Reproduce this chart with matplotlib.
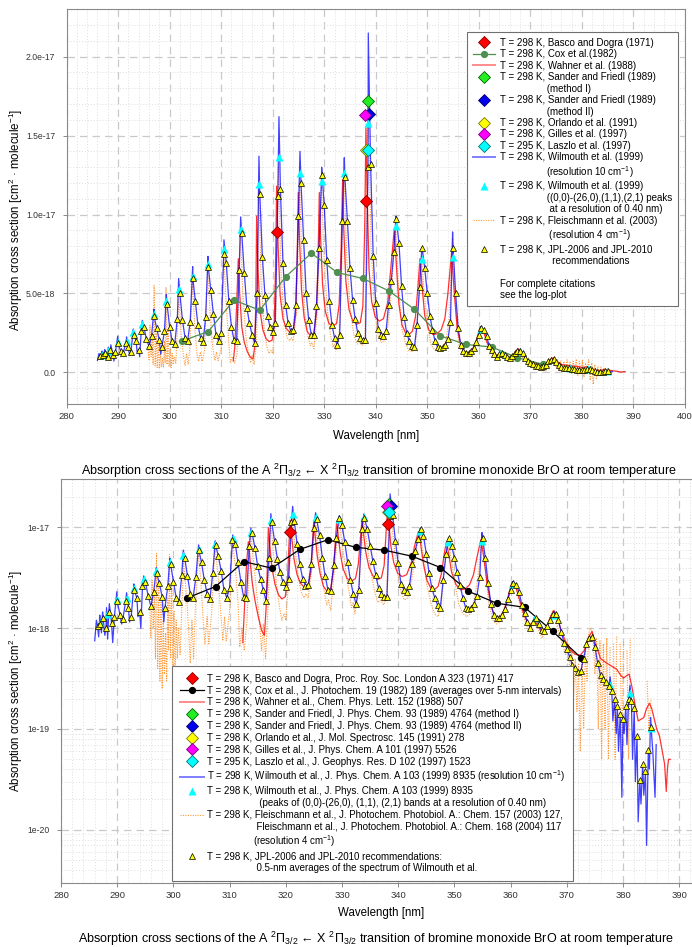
import numpy as np
from matplotlib import pyplot as plt
from matplotlib.lines import Line2D
from matplotlib.ticker import MultipleLocator, FixedLocator, FixedFormatter, LogLocator, NullFormatter

plt.rcParams['font.family'] = ['Liberation Sans', 'DejaVu Sans']
plt.rcParams['mathtext.fontset'] = 'custom'
plt.rcParams['mathtext.rm'] = 'Liberation Sans'
plt.rcParams['mathtext.it'] = 'Liberation Sans:italic'
plt.rcParams['mathtext.bf'] = 'Liberation Sans:bold'

UNIT = 1e-18  # all values below are in 1e-18 cm^2 molecule^-1

# JPL-2006 / JPL-2010 recommendation, 0.5-nm averages starting at 286.5 nm
jpl_start = 286.5
jpl_step = 0.5
jpl_val = [
    1.05, 1.10, 1.25, 1.00, 1.45, 1.12, 1.30, 1.85, 1.35, 1.22,
    1.85, 1.60, 1.30, 2.40, 2.00, 1.45, 2.60, 2.90, 2.10, 1.65,
    2.30, 3.55, 2.80, 2.05, 1.60, 2.60, 4.35, 2.90, 2.00, 1.80,
    3.40, 5.00, 3.30, 2.20, 2.00, 3.20, 6.00, 4.50, 3.00, 2.20,
    1.95, 3.50, 6.70, 5.20, 3.70, 2.40, 2.00, 2.50, 7.50, 6.90,
    4.50, 2.90, 2.05, 2.00, 6.50, 8.80, 6.30, 4.10, 3.10, 2.40,
    1.85, 5.00, 11.3, 7.30, 4.90, 3.60, 2.85, 2.55, 3.10, 11.2,
    11.6, 6.90, 4.30, 3.10, 2.65, 2.70, 4.30, 9.90, 12.0, 8.40,
    5.00, 3.30, 2.40, 2.35, 4.20, 7.90, 12.5, 10.6, 7.10, 4.50,
    3.00, 2.20, 1.75, 2.40, 9.60, 12.4, 9.60, 6.60, 4.60, 3.40,
    2.50, 2.20, 2.05, 2.05, 13.0, 13.2, 7.40, 4.40, 2.75, 2.40,
    2.30, 2.60, 4.30, 5.80, 7.60, 9.70, 8.20, 5.50, 3.50, 2.50,
    2.00, 1.70, 1.60, 3.00, 5.40, 7.90, 6.60, 5.00, 3.60, 2.70,
    2.00, 1.60, 1.55, 1.60, 1.75, 2.10, 3.20, 7.90, 5.00, 2.80,
    1.75, 1.35, 1.25, 1.25, 1.35, 1.55, 1.95, 2.40, 2.80, 2.70,
    2.30, 1.70, 1.40, 1.15, 1.00, 1.15, 1.25, 1.10, 0.95, 0.94,
    1.05, 1.20, 1.37, 1.38, 1.20, 0.92, 0.72, 0.62, 0.52, 0.43,
    0.40, 0.37, 0.38, 0.50, 0.70, 0.80, 0.82, 0.65, 0.45, 0.34,
    0.31, 0.29, 0.27, 0.24, 0.20, 0.17, 0.14, 0.125, 0.17, 0.20,
    0.19, 0.16, 0.085, 0.031, 0.045, 0.038, 0.062, 0.105,
]

# Wilmouth et al. (1999), 10 cm-1: band maxima and the narrow minima not seen in the averages
wilmouth_max = [
    (286.3, 1.2), (286.9, 1.35), (287.4, 1.45), (288.1, 1.6), (288.6, 1.75),
    (289.93, 2.3), (291.67, 2.25), (292.97, 2.75), (294.71, 3.3), (296.98, 4.0),
    (299.37, 4.95), (301.76, 5.95), (304.48, 6.7), (307.45, 7.35), (310.55, 8.4),
    (313.79, 9.85), (317.34, 13.7), (321.22, 16.2), (325.30, 14.0), (329.50, 13.0),
    (333.90, 13.6), (338.55, 21.5), (343.92, 9.9), (348.90, 7.65), (354.91, 8.9),
    (360.36, 2.9), (364.3, 1.3), (367.86, 1.45), (374.66, 0.86), (377.7, 0.33),
    (381.25, 0.27), (384.9, 0.13),
]
wilmouth_min = [
    (286.0, 0.75), (286.7, 0.82), (287.2, 0.9), (287.8, 0.85), (288.3, 0.78),
    (289.2, 0.72), (290.8, 1.1), (292.2, 1.15), (293.7, 1.3), (294.2, 1.0),
    (298.3, 1.15), (378.2, 0.12), (378.8, 0.09), (379.2, 0.06), (379.8, 0.021),
    (380.2, 0.09), (380.7, 0.07), (381.7, 0.05), (382.2, 0.03), (382.7, 0.012),
    (383.2, 0.018), (383.7, 0.022), (384.2, 0.007), (384.7, 0.04), (385.3, 0.06),
    (385.7, 0.021), (385.9, 0.07),
]

# Wilmouth et al. (1999), band peaks at 0.40 nm resolution
wilmouth_peaks = [
    (286.9, 1.12), (288.1, 1.38), (289.93, 1.94), (291.67, 2.00), (292.97, 2.53),
    (294.71, 3.06), (296.98, 3.69), (299.37, 4.53), (301.76, 5.31), (304.48, 6.12),
    (307.45, 6.85), (310.55, 7.80), (313.79, 9.07), (317.34, 11.96), (321.22, 13.67),
    (325.30, 12.66), (329.50, 12.15), (333.90, 12.61), (338.55, 15.82), (343.92, 9.28),
    (348.90, 7.21), (354.91, 7.32), (360.4, 2.75), (364.3, 1.26), (367.9, 1.35),
    (377.7, 0.275), (381.25, 0.23), (384.9, 0.102),
]

# Wahner et al. (1988)
wahner = [
    (312.35, 0.72), (312.65, 1.6), (313.0, 4.2), (313.33, 7.2), (313.6, 5.0), (314.0, 2.9),
    (314.5, 1.9), (315.1, 1.3), (315.7, 0.95), (316.2, 0.85), (316.5, 1.6), (316.72, 4.2),
    (316.89, 9.9), (317.15, 6.5), (317.55, 3.9), (318.1, 2.7), (318.7, 2.15), (319.3, 1.95),
    (319.9, 2.05), (320.3, 3.0), (320.55, 6.5), (320.77, 11.8), (321.05, 8.0), (321.45, 4.9),
    (322.0, 3.4), (322.6, 2.8), (323.3, 2.55), (324.0, 2.65), (324.45, 3.6), (324.75, 7.2),
    (324.97, 11.4), (325.2, 8.5), (325.6, 5.2), (326.1, 3.5), (326.7, 2.6), (327.4, 2.3),
    (328.0, 2.5), (328.5, 3.8), (328.82, 7.5), (329.05, 11.4), (329.3, 8.5), (329.7, 5.5),
    (330.2, 3.9), (330.9, 3.1), (331.7, 2.95), (332.4, 3.1), (332.9, 4.3), (333.3, 8.0),
    (333.57, 12.2), (333.8, 9.0), (334.2, 5.8), (334.8, 4.0), (335.5, 3.3), (336.3, 3.05),
    (337.0, 3.15), (337.5, 4.2), (337.85, 9.0), (338.1, 15.5), (338.35, 11.0), (338.7, 6.5),
    (339.2, 4.5), (339.9, 3.5), (340.7, 3.25), (341.5, 3.4), (342.3, 4.4), (342.9, 6.5),
    (343.6, 9.1), (344.0, 6.8), (344.5, 4.3), (345.1, 3.0), (345.8, 2.5), (346.4, 2.4),
    (347.1, 2.6), (347.7, 3.5), (348.2, 5.5), (348.58, 7.2), (348.95, 5.6), (349.5, 3.6),
    (350.3, 2.7), (351.1, 2.4), (351.9, 2.45), (352.7, 2.7), (353.4, 3.4), (354.0, 5.0),
    (354.72, 7.6), (355.2, 5.2), (355.8, 2.8), (356.5, 1.7), (357.2, 1.3), (358.0, 1.25),
    (358.8, 1.5), (359.5, 2.0), (360.0, 2.6), (360.35, 2.9), (360.9, 2.6), (361.6, 1.9),
    (362.4, 1.35), (363.1, 1.1), (363.8, 1.1), (364.3, 1.2), (364.9, 1.05), (365.6, 0.9),
    (366.4, 1.0), (367.1, 1.3), (367.7, 1.5), (368.3, 1.3), (369.1, 0.9), (369.9, 0.72),
    (370.7, 0.6), (371.5, 0.55), (372.4, 0.54), (373.1, 0.6), (373.8, 0.8), (374.5, 0.93),
    (375.1, 0.7), (376.0, 0.5), (377.1, 0.45), (378.0, 0.42), (378.9, 0.39), (379.6, 0.34),
    (380.1, 0.32), (380.7, 0.34), (381.1, 0.35), (381.6, 0.26), (382.1, 0.18), (382.7, 0.12),
    (383.2, 0.125), (383.7, 0.13), (384.2, 0.16), (384.7, 0.18), (385.1, 0.16), (385.5, 0.13),
    (386.0, 0.10), (386.5, 0.085), (387.0, 0.06), (387.4, 0.045), (387.7, 0.024), (387.9, 0.04),
    (388.1, 0.05), (388.4, 0.05),
]

# Fleischmann et al. (2003/2004), 4 cm-1
fleischmann = [
    (295.8, 1.6), (296.0, 0.8), (296.2, 3.0), (296.4, 1.0), (296.6, 2.2), (296.8, 0.5),
    (297.0, 5.5), (297.2, 0.4), (297.4, 2.5), (297.6, 0.3), (297.8, 1.8), (298.0, 0.25),
    (298.2, 1.2), (298.4, 0.35), (298.6, 0.9), (298.8, 0.3), (299.0, 2.0), (299.15, 0.6),
    (299.3, 5.4), (299.5, 0.5), (299.7, 2.6), (299.9, 0.4), (300.1, 1.5), (300.3, 0.3),
    (300.5, 1.2), (300.7, 0.5), (300.9, 1.0), (301.2, 0.55), (301.8, 4.6), (302.3, 2.2),
    (302.7, 1.0), (303.0, 0.45), (303.3, 1.2), (303.6, 0.5), (303.9, 1.5), (304.45, 5.8),
    (304.9, 2.8), (305.3, 1.2), (305.6, 0.7), (306.0, 1.3), (306.3, 0.7), (306.8, 1.4),
    (307.4, 6.6), (307.9, 3.5), (308.4, 1.5), (308.8, 0.75), (309.1, 1.3), (309.4, 0.75),
    (310.0, 1.5), (310.5, 7.5), (311.0, 4.2), (311.5, 1.8), (311.8, 0.65), (312.2, 1.0),
    (312.6, 0.6), (313.1, 1.2), (313.75, 8.8), (314.2, 5.0), (314.8, 2.3), (315.3, 1.2),
    (315.7, 0.6), (316.0, 1.1), (316.4, 0.5), (316.9, 2.0), (317.3, 11.5), (317.8, 5.5),
    (318.4, 2.6), (318.9, 1.6), (319.3, 1.2), (319.7, 1.4), (320.0, 1.2), (320.6, 3.5),
    (321.15, 13.0), (321.6, 6.5), (322.2, 3.3), (322.8, 2.2), (323.3, 2.0), (323.6, 2.2),
    (324.0, 2.0), (324.6, 3.8), (325.25, 12.0), (325.7, 6.5), (326.3, 3.6), (326.9, 2.2),
    (327.3, 1.7), (327.6, 1.9), (328.0, 1.5), (328.7, 4.0), (329.45, 12.0), (330.0, 7.0),
    (330.6, 4.0), (331.2, 2.4), (331.7, 1.6), (332.0, 1.8), (332.3, 1.4), (333.1, 3.0),
    (333.85, 12.5), (334.4, 7.0), (335.1, 3.8), (335.8, 2.3), (336.4, 1.8), (336.9, 1.9),
    (337.4, 1.7), (337.9, 2.0), (338.5, 17.0), (339.1, 8.0), (339.8, 3.8), (340.5, 2.3),
    (341.1, 1.9), (341.7, 2.0), (342.4, 3.0), (343.1, 5.5), (343.85, 9.2), (344.4, 5.5),
    (345.1, 2.7), (345.8, 1.8), (346.4, 1.4), (347.1, 1.3), (347.7, 1.8), (348.2, 4.0),
    (348.85, 7.4), (349.4, 5.0), (350.1, 2.8), (350.8, 1.7), (351.5, 1.4), (352.2, 1.3),
    (352.9, 1.4), (353.6, 2.0), (354.3, 3.5), (354.9, 8.5), (355.5, 4.0), (356.1, 1.8),
    (356.8, 1.2), (357.5, 1.1), (358.3, 1.2), (359.1, 1.5), (359.8, 2.2), (360.4, 2.8),
    (361.1, 2.4), (361.8, 1.6), (362.5, 1.2), (363.2, 0.95), (363.8, 1.15), (364.4, 1.3),
    (365.0, 0.95), (365.6, 0.8), (366.2, 0.95), (366.8, 1.2), (367.5, 1.5), (368.0, 1.3),
    (368.6, 0.9), (369.2, 0.7), (369.8, 0.55), (370.3, 0.7), (370.6, 0.3), (370.9, 0.6),
    (371.2, 0.2), (371.5, 0.5), (371.8, 0.15), (372.1, 0.45), (372.4, 0.06), (372.7, 0.5),
    (373.0, 0.1), (373.3, 0.6), (373.6, 0.3), (373.9, 0.9), (374.3, 1.0), (374.7, 0.8),
    (375.0, 0.35), (375.3, 0.8), (375.6, 0.1), (375.9, 0.75), (376.2, 0.05), (376.5, 0.7),
    (376.8, 0.1), (377.1, 0.8), (377.4, 0.05), (377.7, 0.65), (378.0, -0.1), (378.3, 0.7),
    (378.6, 0.05), (378.9, 0.85), (379.2, -0.2), (379.5, 0.7), (379.8, 0.05), (380.1, 0.75),
    (380.4, -0.3), (380.7, 0.6), (381.0, 0.05), (381.3, 0.8), (381.6, -0.5), (381.9, 0.6),
    (382.2, -0.75), (382.5, 0.5), (382.8, -0.45), (383.1, 0.35), (383.4, -0.2), (383.7, 0.35),
    (384.0, 0.0), (384.3, 0.3), (384.6, 0.1), (385.0, 0.2),
]

# Cox et al. (1982), 5-nm averages
cox_wl = [302.5, 307.5, 312.5, 317.5, 322.5, 327.5, 332.5, 337.5, 342.5, 347.5,
          352.5, 357.5, 362.5, 367.5, 372.5]
cox_val = [2.00, 2.59, 4.58, 3.94, 6.05, 7.55, 6.33, 5.95, 5.17, 4.00,
           2.32, 1.77, 1.61, 0.93, 0.51]

# single-point measurements
basco = [(320.8, 8.92), (338.2, 10.86)]
sander_1 = [(338.4, 17.2)]
sander_2 = [(338.65, 16.4)]
orlando = [(338.15, 14.1)]
gilles = [(337.95, 16.3)]
laszlo = [(338.4, 14.1)]

lin_ticks = [0.0, 5e-18, 1e-17, 1.5e-17, 2e-17]
lin_labels = ['0.0', '5.0e-18', '1.0e-17', '1.5e-17', '2.0e-17']
log_ticks = [1e-20, 1e-19, 1e-18, 1e-17]
log_labels = ['1e-20', '1e-19', '1e-18', '1e-17']
wl_ticks_top = [280, 290, 300, 310, 320, 330, 340, 350, 360, 370, 380, 390, 400]
wl_ticks_bot = [280, 290, 300, 310, 320, 330, 340, 350, 360, 370, 380, 390]


def split(pairs):
    a = np.array(pairs, dtype=float)
    return a[:, 0], a[:, 1] * UNIT


jpl_wl = jpl_start + jpl_step * np.arange(len(jpl_val))
jpl_v = np.array(jpl_val) * UNIT

# the 10 cm-1 spectrum passes through its own 0.5-nm averages
mx_wl, mx_v = split(wilmouth_max)
mn_wl, mn_v = split(wilmouth_min)
wil_wl = np.concatenate([jpl_wl, mx_wl, mn_wl])
wil_v = np.concatenate([jpl_v, mx_v, mn_v])
order = np.argsort(wil_wl, kind='stable')
wil_wl, wil_v = wil_wl[order], wil_v[order]

pk_wl, pk_v = split(wilmouth_peaks)
wa_wl, wa_v = split(wahner)
fl_wl, fl_v = split(fleischmann)
cox_v = np.array(cox_val) * UNIT

diamonds = [
    (basco, '#ff0000', '#8b0000'),
    (sander_1, '#22ee22', '#006400'),
    (sander_2, '#0000ee', '#000066'),
    (orlando, '#ffff00', '#777700'),
    (gilles, '#ff00ff', '#770077'),
    (laszlo, '#00ffff', '#007777'),
]


def draw(ax, log, cox_color):
    def pos(v):
        return np.where(v > 0, v, np.nan) if log else v
    ax.plot(fl_wl, pos(fl_v), ls=(0, (1, 1.2)), color='#ff9a3c', lw=0.8, zorder=2)
    ax.plot(wa_wl, pos(wa_v), color='#ff0000', lw=0.9, alpha=0.8, zorder=3)
    ax.plot(wil_wl, pos(wil_v), color='#0000ff', lw=0.9, alpha=0.75, zorder=4)
    ax.plot(cox_wl, cox_v, color=cox_color, lw=0.9, marker='o', ms=4.2, zorder=5)
    ax.plot(pk_wl, pk_v, ls='none', marker='^', ms=6, mfc='#00ffff', mec='none', zorder=6)
    ax.plot(jpl_wl, pos(jpl_v), ls='none', marker='^', ms=4.8, mfc='#ffff00', mec='black',
            mew=0.5, zorder=7)
    for pts, fc, ec in diamonds:
        x, y = split(pts)
        ax.plot(x, y, ls='none', marker='D', ms=6.5, mfc=fc, mec=ec, mew=0.6, zorder=8)


def style(ax, xticks):
    ax.set_xlim(280, 400)
    ax.xaxis.set_major_locator(FixedLocator(xticks))
    ax.xaxis.set_minor_locator(MultipleLocator(2))
    ax.grid(which='major', color='#c9c9c9', ls=(0, (6, 4)), lw=0.9)
    ax.grid(which='minor', color='#dedede', ls=(0, (1, 2)), lw=0.7)
    ax.set_axisbelow(True)
    for s in ax.spines.values():
        s.set_color('#8a8a8a')
        s.set_linewidth(0.8)
    ax.tick_params(which='major', direction='out', length=3, width=0.7, color='#8a8a8a',
                   labelcolor='#333333')
    ax.tick_params(which='minor', length=0)
    ax.tick_params(axis='x', pad=3, labelsize=6.8)
    ax.tick_params(axis='y', labelsize=6.2, pad=5)


def mk(marker=None, color='none', ms=6.5, ec='none', ls='none', lw=1.0, alpha=1.0):
    return Line2D([], [], ls=ls, color=color, lw=lw, alpha=alpha, marker=marker, ms=ms,
                  mfc=color if marker else 'none', mec=ec, mew=0.6)


blank = mk()
h_basco = mk('D', '#ff0000', ec='#8b0000')
h_sf1 = mk('D', '#22ee22', ec='#006400')
h_sf2 = mk('D', '#0000ee', ec='#000066')
h_orl = mk('D', '#ffff00', ec='#777700')
h_gil = mk('D', '#ff00ff', ec='#770077')
h_las = mk('D', '#00ffff', ec='#007777')
h_wah = Line2D([], [], color='#ff0000', lw=1.4, alpha=0.45)
h_wil = Line2D([], [], color='#0000ff', lw=1.4, alpha=0.5)
h_pk = Line2D([], [], ls='none', marker='^', ms=6, mfc='#00ffff', mec='none')
h_fle = Line2D([], [], color='#ff9a3c', lw=0.8, ls=(0, (1, 1.2)))
h_jpl = Line2D([], [], ls='none', marker='^', ms=4.8, mfc='#ffff00', mec='black', mew=0.5)

fig = plt.figure(figsize=(6.92, 9.47), dpi=100)
W, H = 692.0, 947.0

# linear plot
ax1 = fig.add_axes([66.5 / W, 1 - 404 / H, 618.5 / W, 394.7 / H])
draw(ax1, False, '#4f8f4f')
style(ax1, wl_ticks_top)
ax1.set_ylim(-2e-18, 2.3e-17)
ax1.yaxis.set_major_locator(FixedLocator(lin_ticks))
ax1.yaxis.set_major_formatter(FixedFormatter(lin_labels))
ax1.yaxis.set_minor_locator(MultipleLocator(1e-18))

h_cox_g = Line2D([], [], color='#4f8f4f', lw=0.9, marker='o', ms=4.2)
ind = ' ' * 17
rows_top = [
    (h_basco, 'T = 298 K, Basco and Dogra (1971)'),
    (h_cox_g, 'T = 298 K, Cox et al.(1982)'),
    (h_wah, 'T = 298 K, Wahner et al. (1988)'),
    (h_sf1, 'T = 298 K, Sander and Friedl (1989)'),
    (blank, ind + '(method I)'),
    (h_sf2, 'T = 298 K, Sander and Friedl (1989)'),
    (blank, ind + '(method II)'),
    (h_orl, 'T = 298 K, Orlando et al. (1991)'),
    (h_gil, 'T = 298 K, Gilles et al. (1997)'),
    (h_las, 'T = 295 K, Laszlo et al. (1997)'),
    (h_wil, 'T = 298 K, Wilmouth et al. (1999)'),
    (blank, ind + '(resolution 10 cm$^{-1}$)'),
    (h_pk, 'T = 298 K, Wilmouth et al. (1999)'),
    (blank, ind + '((0,0)-(26,0),(1,1),(2,1) peaks'),
    (blank, ind + ' at a resolution of 0.40 nm)'),
    (h_fle, 'T = 298 K, Fleischmann et al. (2003)'),
    (blank, ind + ' (resolution 4 cm$^{-1}$)'),
    (h_jpl, 'T = 298 K, JPL-2006 and JPL-2010'),
    (blank, ind + '  recommendations'),
    (blank, ' '),
    (blank, 'For complete citations'),
    (blank, 'see the log-plot'),
]
leg1 = ax1.legend([r[0] for r in rows_top], [r[1] for r in rows_top], loc='upper right',
                  bbox_to_anchor=(0.9887, 0.9425), borderaxespad=0, fontsize=7,
                  labelspacing=0.15, handlelength=2.3, handletextpad=0.5, borderpad=0.6,
                  fancybox=False, edgecolor='#707070', framealpha=1)
leg1.get_frame().set_linewidth(0.8)
leg1.set_zorder(20)

# log plot (right part runs past the picture edge)
ax2 = fig.add_axes([61 / W, 1 - 882.5 / H, 674.4 / W, 403.2 / H])
draw(ax2, True, 'black')
style(ax2, wl_ticks_bot)
ax2.set_yscale('log')
ax2.set_ylim(3e-21, 3e-17)
ax2.yaxis.set_major_locator(FixedLocator(log_ticks))
ax2.yaxis.set_major_formatter(FixedFormatter(log_labels))
ax2.yaxis.set_minor_locator(LogLocator(base=10, subs=np.arange(2, 10)))
ax2.yaxis.set_minor_formatter(NullFormatter())

h_cox_k = Line2D([], [], color='black', lw=0.9, marker='o', ms=4.2)
ind2 = ' ' * 19
rows_bot = [
    (h_basco, 'T = 298 K, Basco and Dogra, Proc. Roy. Soc. London A 323 (1971) 417'),
    (h_cox_k, 'T = 298 K, Cox et al., J. Photochem. 19 (1982) 189 (averages over 5-nm intervals)'),
    (h_wah, 'T = 298 K, Wahner et al., Chem. Phys. Lett. 152 (1988) 507'),
    (h_sf1, 'T = 298 K, Sander and Friedl, J. Phys. Chem. 93 (1989) 4764 (method I)'),
    (h_sf2, 'T = 298 K, Sander and Friedl, J. Phys. Chem. 93 (1989) 4764 (method II)'),
    (h_orl, 'T = 298 K, Orlando et al., J. Mol. Spectrosc. 145 (1991) 278'),
    (h_gil, 'T = 298 K, Gilles et al., J. Phys. Chem. A 101 (1997) 5526'),
    (h_las, 'T = 295 K, Laszlo et al., J. Geophys. Res. D 102 (1997) 1523'),
    (h_wil, 'T = 298 K, Wilmouth et al., J. Phys. Chem. A 103 (1999) 8935 (resolution 10 cm$^{-1}$)'),
    (h_pk, 'T = 298 K, Wilmouth et al., J. Phys. Chem. A 103 (1999) 8935'),
    (blank, ind2 + '(peaks of (0,0)-(26,0), (1,1), (2,1) bands at a resolution of 0.40 nm)'),
    (h_fle, 'T = 298 K, Fleischmann et al., J. Photochem. Photobiol. A.: Chem. 157 (2003) 127,'),
    (blank, ' ' * 18 + 'Fleischmann et al., J. Photochem. Photobiol. A.: Chem. 168 (2004) 117'),
    (blank, ' ' * 17 + '(resolution 4 cm$^{-1}$)'),
    (h_jpl, 'T = 298 K, JPL-2006 and JPL-2010 recommendations:'),
    (blank, ' ' * 18 + '0.5-nm averages of the spectrum of Wilmouth et al.'),
]
leg2 = ax2.legend([r[0] for r in rows_bot], [r[1] for r in rows_bot], loc='lower right',
                  bbox_to_anchor=(0.759, 0.004), borderaxespad=0, fontsize=7,
                  labelspacing=0.19, handlelength=2.5, handletextpad=0.35, borderpad=0.8,
                  fancybox=False, edgecolor='#707070', framealpha=1)
leg2.get_frame().set_linewidth(0.8)
leg2.set_zorder(20)

ylab = 'Absorption cross section [cm$^2$ \u00b7 molecule$^{-1}$]'
title = ('Absorption cross sections of the A $^2\\Pi_{3/2}$ \u2190 X $^2\\Pi_{3/2}$ '
         'transition of bromine monoxide BrO at room temperature')

fig.text(16 / W, 1 - 220 / H, ylab, rotation=90, ha='center', va='center', fontsize=8.3)
fig.text(376 / W, 1 - 436 / H, 'Wavelength [nm]', ha='center', va='center', fontsize=8.3)
fig.text(379 / W, 1 - 471 / H, title, ha='center', va='center', fontsize=9)

fig.text(16 / W, 1 - 681 / H, ylab, rotation=90, ha='center', va='center', fontsize=8.3)
fig.text(381 / W, 1 - 913 / H, 'Wavelength [nm]', ha='center', va='center', fontsize=8.3)
fig.text(376 / W, 1 - 939 / H, title, ha='center', va='center', fontsize=9)

fig.savefig('out.png', dpi=100)
